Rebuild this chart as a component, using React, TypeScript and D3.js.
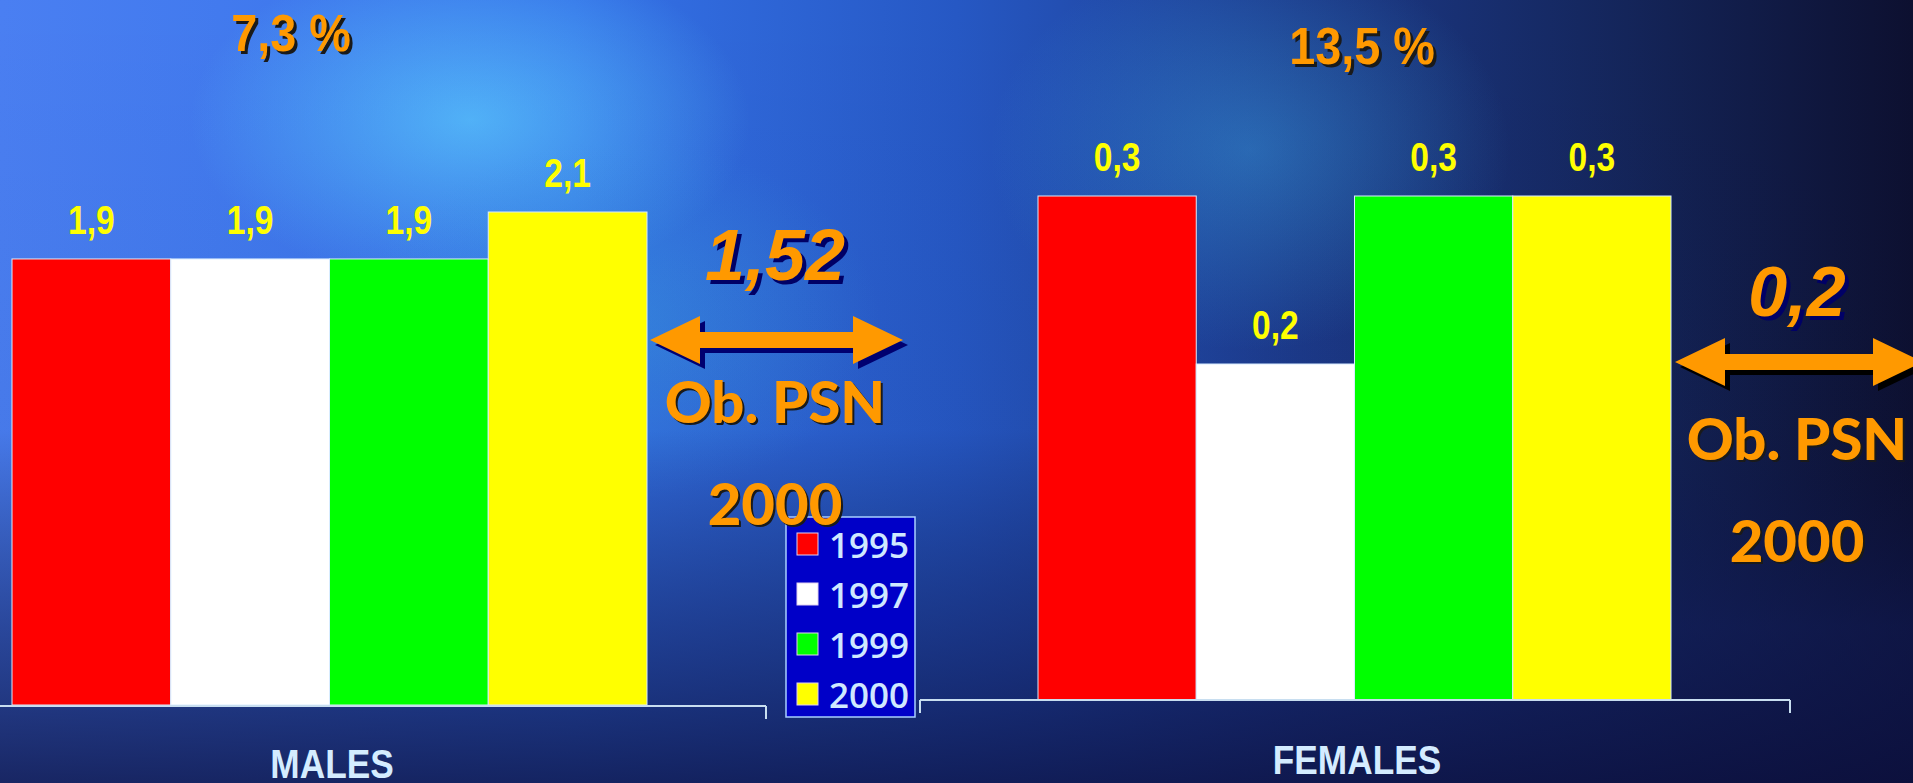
import React from "react";
import * as d3 from "d3";

const years = ["1995", "1997", "1999", "2000"];
const yearColors = ["#ff0000", "#ffffff", "#00ff00", "#ffff00"];
const groups = ["MALES", "FEMALES"];
const malesValues = [1.9, 1.9, 1.9, 2.1];
const femalesValues = [0.3, 0.2, 0.3, 0.3];
const totals = ["7,3 %", "13,5 %"];
const objectives = ["1,52", "0,2"];
const objectiveLabel = "Ob. PSN";
const objectiveYear = "2000";

const W = 1913;
const H = 783;

const fmt = (v: number) => d3.format(".1f")(v).replace(".", ",");

function arrowPath(x1: number, x2: number, cy: number) {
  const hl = 50, hh = 24, st = 8;
  const pts: [number, number][] = [
    [x1, cy], [x1 + hl, cy - hh], [x1 + hl, cy - st], [x2 - hl, cy - st], [x2 - hl, cy - hh],
    [x2, cy], [x2 - hl, cy + hh], [x2 - hl, cy + st], [x1 + hl, cy + st], [x1 + hl, cy + hh],
  ];
  return (d3.line()(pts) || "") + "Z";
}

const sans = "'Liberation Sans', Arial, sans-serif";
const lato = "Lato, 'Open Sans', sans-serif";
const orange = "#ff9900";

function NarrowText(props: { x: number; y: number; size: number; fill: string; sx?: number; children: React.ReactNode }) {
  const sx = props.sx ?? 0.86;
  return (
    <g transform={`translate(${props.x},${props.y}) scale(${sx},1)`}>
      <text x={0} y={0} textAnchor="middle" fill={props.fill} fontFamily={sans} fontWeight="bold" fontSize={props.size}>
        {props.children}
      </text>
    </g>
  );
}

export default function App() {
  const panels = [
    {
      values: malesValues,
      x: d3.scaleBand<string>().domain(years).range([12, 647]).padding(0),
      y: d3.scaleLinear().domain([0, 2.1]).range([705, 212]),
      base: { x1: 0, x2: 766, y: 706, ticks: [766] },
      label: { x: 332, y: 778 },
      total: { x: 291, y: 51 },
      obj: { cx: 775, numY: 280, arrowX1: 650, arrowX2: 903, arrowY: 340, labY: 423, yearY: 525 },
    },
    {
      values: femalesValues,
      x: d3.scaleBand<string>().domain(years).range([1038, 1671]).padding(0),
      y: d3.scaleLinear().domain([0, 0.3]).range([700, 196]),
      base: { x1: 920, x2: 1790, y: 700, ticks: [920, 1790] },
      label: { x: 1357, y: 774 },
      total: { x: 1362, y: 64 },
      obj: { cx: 1797, numY: 316, arrowX1: 1675, arrowX2: 1923, arrowY: 362, labY: 460, yearY: 562 },
    },
  ];

  return (
    <svg width={W} height={H} style={{ position: "fixed", left: 0, top: 0 }} xmlns="http://www.w3.org/2000/svg">
      <defs>
        <linearGradient id="bgH" x1="0" y1="0" x2="1" y2="0">
          <stop offset="0" stopColor="#4a7ff2" />
          <stop offset="0.3" stopColor="#3572e8" />
          <stop offset="0.5" stopColor="#2658c4" />
          <stop offset="0.68" stopColor="#1c3a8a" />
          <stop offset="0.85" stopColor="#14255a" />
          <stop offset="1" stopColor="#0d1030" />
        </linearGradient>
        <linearGradient id="bgV" x1="0" y1="0" x2="0" y2="1">
          <stop offset="0" stopColor="#0a1040" stopOpacity="0" />
          <stop offset="0.55" stopColor="#0a1040" stopOpacity="0.05" />
          <stop offset="0.8" stopColor="#101a55" stopOpacity="0.55" />
          <stop offset="1" stopColor="#0c1040" stopOpacity="0.8" />
        </linearGradient>
        <radialGradient id="glow1" cx="0.5" cy="0.5" r="0.5">
          <stop offset="0" stopColor="#5ac8ff" stopOpacity="0.75" />
          <stop offset="1" stopColor="#5ac8ff" stopOpacity="0" />
        </radialGradient>
        <radialGradient id="glow2" cx="0.5" cy="0.5" r="0.5">
          <stop offset="0" stopColor="#3aa0e0" stopOpacity="0.45" />
          <stop offset="1" stopColor="#3aa0e0" stopOpacity="0" />
        </radialGradient>
      </defs>
      <rect x={0} y={0} width={W} height={H} fill="url(#bgH)" />
      <ellipse cx={470} cy={120} rx={280} ry={170} fill="url(#glow1)" />
      <ellipse cx={620} cy={320} rx={260} ry={180} fill="url(#glow2)" />
      <ellipse cx={1250} cy={150} rx={260} ry={200} fill="url(#glow2)" />
      <rect x={0} y={0} width={W} height={H} fill="url(#bgV)" />

      <g>
        <rect x={786} y={517} width={129} height={200} fill="#0000c8" stroke="#a8cfff" strokeWidth={1.5} />
        {years.map((yr, i) => (
          <g key={yr}>
            <rect x={797} y={533 + i * 50} width={21} height={22} fill={yearColors[i]} stroke="#e0d0f0" strokeWidth={1} />
            <text x={829} y={558 + i * 50} fill="#cfe8ff" fontFamily="'Open Sans', Lato, sans-serif"
              fontWeight="600" fontSize={35}>{yr}</text>
          </g>
        ))}
      </g>

      {panels.map((p, pi) => (
        <g key={groups[pi]}>
          {years.map((yr, i) => {
            const v = p.values[i];
            const x = p.x(yr) as number;
            const bw = p.x.bandwidth();
            const y0 = p.y(0);
            const y1 = p.y(v);
            return (
              <g key={yr}>
                <rect x={x} y={y1} width={bw} height={y0 - y1} fill={yearColors[i]} stroke="#d8ecff" strokeWidth={1} />
                <NarrowText x={x + bw / 2} y={y1 - 25} size={40} sx={0.84} fill="#ffff00">{fmt(v)}</NarrowText>
              </g>
            );
          })}
          <path d={`M${p.base.x1},${p.base.y}H${p.base.x2}`} stroke="#c8def0" strokeWidth={2} fill="none" />
          {p.base.ticks.map((t) => (
            <path key={t} d={`M${t},${p.base.y}V${p.base.y + 13}`} stroke="#c8def0" strokeWidth={2} fill="none" />
          ))}
          <NarrowText x={p.label.x} y={p.label.y} size={41} sx={0.86} fill="#d4ecff">{groups[pi]}</NarrowText>
          <NarrowText x={p.total.x + 3} y={p.total.y + 3} size={52} sx={0.9} fill="#1a1a1a">{totals[pi]}</NarrowText>
          <NarrowText x={p.total.x} y={p.total.y} size={52} sx={0.9} fill={orange}>{totals[pi]}</NarrowText>

          <text x={p.obj.cx + 4} y={p.obj.numY + 4} textAnchor="middle" fill="#000066"
            fontFamily={sans} fontWeight="bold" fontStyle="italic" fontSize={pi === 0 ? 72 : 70}>{objectives[pi]}</text>
          <text x={p.obj.cx} y={p.obj.numY} textAnchor="middle" fill={orange}
            fontFamily={sans} fontWeight="bold" fontStyle="italic" fontSize={pi === 0 ? 72 : 70}>{objectives[pi]}</text>

          <path d={arrowPath(p.obj.arrowX1, p.obj.arrowX2, p.obj.arrowY)} transform="translate(5,5)" fill={pi === 0 ? "#000070" : "#000000"} />
          <path d={arrowPath(p.obj.arrowX1, p.obj.arrowX2, p.obj.arrowY)} fill={orange} />

          <text x={p.obj.cx + 2} y={p.obj.labY + 2} textAnchor="middle" fill="#1a1a1a"
            fontFamily={lato} fontWeight="900" fontSize={58}>{objectiveLabel}</text>
          <text x={p.obj.cx} y={p.obj.labY} textAnchor="middle" fill={orange}
            fontFamily={lato} fontWeight="900" fontSize={58}>{objectiveLabel}</text>
          <text x={p.obj.cx + 2} y={p.obj.yearY + 2} textAnchor="middle" fill="#1a1a1a"
            fontFamily={lato} fontWeight="900" fontSize={58}>{objectiveYear}</text>
          <text x={p.obj.cx} y={p.obj.yearY} textAnchor="middle" fill={orange}
            fontFamily={lato} fontWeight="900" fontSize={58}>{objectiveYear}</text>
        </g>
      ))}
    </svg>
  );
}
